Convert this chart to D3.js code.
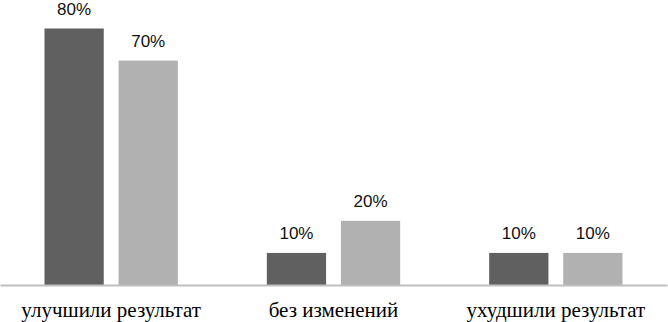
<!DOCTYPE html>
<html>
<head>
<meta charset="utf-8">
<script src="https://cdn.jsdelivr.net/npm/d3@7"></script>
<style>
  body { margin: 0; background: #fff; }
  .cat-label { font-family: "Liberation Serif", "Times New Roman", serif; }
</style>
</head>
<body>
<div id="container"></div>
<script>
// данные
let categories = ["улучшили результат", "без изменений", "ухудшили результат"];
let seriesNames = ["s1", "s2"];
let series1 = [0.8, 0.1, 0.1];
let series2 = [0.7, 0.2, 0.1];
let colors = ["#606060", "#b1b1b1"];

let width = 668, height = 322;
let baseY = 285;

let svg = d3.select("#container")
    .append("svg")
    .attr("width", width)
    .attr("height", height);

// шкалы
let x0 = d3.scaleBand()
    .domain(categories)
    .range([0, 667])
    .paddingInner(0)
    .paddingOuter(0);

let x1 = d3.scaleBand()
    .domain(seriesNames)
    .range([44.5, x0.bandwidth() - 44.5])
    .paddingInner(0.2);

let y = d3.scaleLinear()
    .domain([0, 0.8])
    .range([baseY, 28.5]);

let rows = categories.map(function (c, i) {
    return { cat: c, vals: [series1[i], series2[i]] };
});

let groups = svg.selectAll("g.grp")
    .data(rows)
    .enter()
    .append("g")
    .attr("class", "grp")
    .attr("transform", d => "translate(" + x0(d.cat) + ",0)");

let bars = groups.selectAll("rect")
    .data(d => d.vals.map((v, j) => ({ v: v, s: seriesNames[j], j: j })))
    .enter();

bars.append("rect")
    .attr("x", d => x1(d.s))
    .attr("y", d => y(d.v))
    .attr("width", x1.bandwidth())
    .attr("height", d => baseY - y(d.v))
    .attr("fill", d => colors[d.j]);

// подписи значений
bars.append("text")
    .attr("x", d => x1(d.s) + x1.bandwidth() / 2)
    .attr("y", d => y(d.v) - 14)
    .attr("text-anchor", "middle")
    .attr("font-family", "Liberation Sans, Arial, sans-serif")
    .attr("font-size", 17)
    .attr("fill", "#111")
    .text(d => d3.format(".0%")(d.v));

// ось
let xAxis = d3.axisBottom(x0).tickSize(0).tickPadding(0);
let xg = svg.append("g")
    .attr("transform", "translate(0," + baseY + ")")
    .call(xAxis)
    .attr("font-family", null)
    .attr("font-size", null);

xg.select(".domain")
    .attr("stroke", "#bfbfbf")
    .attr("stroke-width", 2);

xg.selectAll(".tick text")
    .attr("class", "cat-label")
    .attr("y", 32)
    .attr("dy", 0)
    .attr("font-size", 21)
    .attr("fill", "#000");
</script>
</body>
</html>
